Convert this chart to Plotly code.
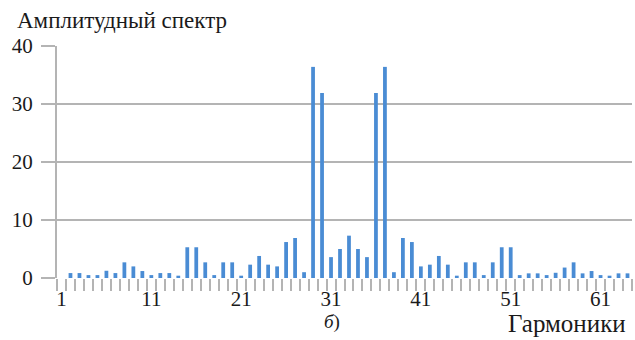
import plotly.graph_objects as go

harmonics = list(range(1, 65))
amplitude = [
    0.0, 0.85, 0.85, 0.5, 0.5, 1.25, 0.85, 2.7, 2.0, 1.2,
    0.5, 0.85, 0.85, 0.4, 5.3, 5.3, 2.7, 0.5, 2.7, 2.7,
    0.4, 2.3, 3.8, 2.3, 2.0, 6.2, 6.9, 1.0, 36.4, 31.9,
    3.6, 5.0, 7.3, 5.0, 3.6, 31.9, 36.4, 1.0, 6.9, 6.2,
    2.0, 2.3, 3.8, 2.3, 0.4, 2.7, 2.7, 0.5, 2.7, 5.3,
    5.3, 0.5, 0.8, 0.8, 0.5, 0.9, 1.8, 2.7, 0.8, 1.2,
    0.5, 0.4, 0.8, 0.8,
]
x_tickvals = [1, 11, 21, 31, 41, 51, 61]
x_ticktext = ["1", "11", "21", "31", "41", "51", "61"]
y_tickvals = [0, 10, 20, 30, 40]

title_text = "Амплитудный спектр"
xlabel_text = "Гармоники"
panel_text = "<i>б</i>)"

FONT = "'Liberation Serif', 'Times New Roman', serif"
GRID = "#b4b4b4"
BAR = "#4a8cd4"
TXT = "#1a1a1a"

fig = go.Figure(go.Bar(
    x=harmonics, y=amplitude, width=0.42,
    marker=dict(color=BAR, line=dict(width=0)),
))

fig.update_layout(
    width=635, height=340,
    margin=dict(l=57, r=3, t=46, b=62),
    paper_bgcolor="white", plot_bgcolor="white",
    showlegend=False,
    font=dict(family=FONT, size=20, color=TXT),
    xaxis=dict(
        range=[0.5, 64.5], tickvals=x_tickvals, ticktext=x_ticktext,
        ticks="", showgrid=False, zeroline=False, showline=False,
        ticklabelstandoff=6,
        tickfont=dict(family=FONT, size=21, color=TXT),
        minor=dict(tick0=0.5, dtick=1, ticks="outside", ticklen=12,
                   tickwidth=2, tickcolor=GRID, showgrid=False),
    ),
    yaxis=dict(
        range=[0, 40], tickvals=y_tickvals, showgrid=True, gridcolor=GRID,
        gridwidth=2, zeroline=False, showline=True, linecolor=GRID, linewidth=2,
        ticks="outside", ticklen=14, tickwidth=2, tickcolor=GRID,
        ticklabelstandoff=4,
        tickfont=dict(family=FONT, size=21, color=TXT),
    ),
    annotations=[
        dict(text=title_text, xref="paper", yref="paper", x=-0.073, y=1.108,
             xanchor="left", yanchor="middle", showarrow=False,
             font=dict(family=FONT, size=23, color=TXT)),
        dict(text=panel_text, xref="paper", yref="paper", x=0.478, y=-0.19,
             xanchor="center", yanchor="middle", showarrow=False,
             font=dict(family=FONT, size=19, color=TXT)),
        dict(text=xlabel_text, xref="paper", yref="paper", x=0.993, y=-0.195,
             xanchor="right", yanchor="middle", showarrow=False,
             font=dict(family=FONT, size=25, color=TXT)),
    ],
)

fig.write_html("out.html",
               config={"displayModeBar": False, "staticPlot": True},
               post_script="document.body.style.margin='0';document.body.style.overflow='hidden';")
